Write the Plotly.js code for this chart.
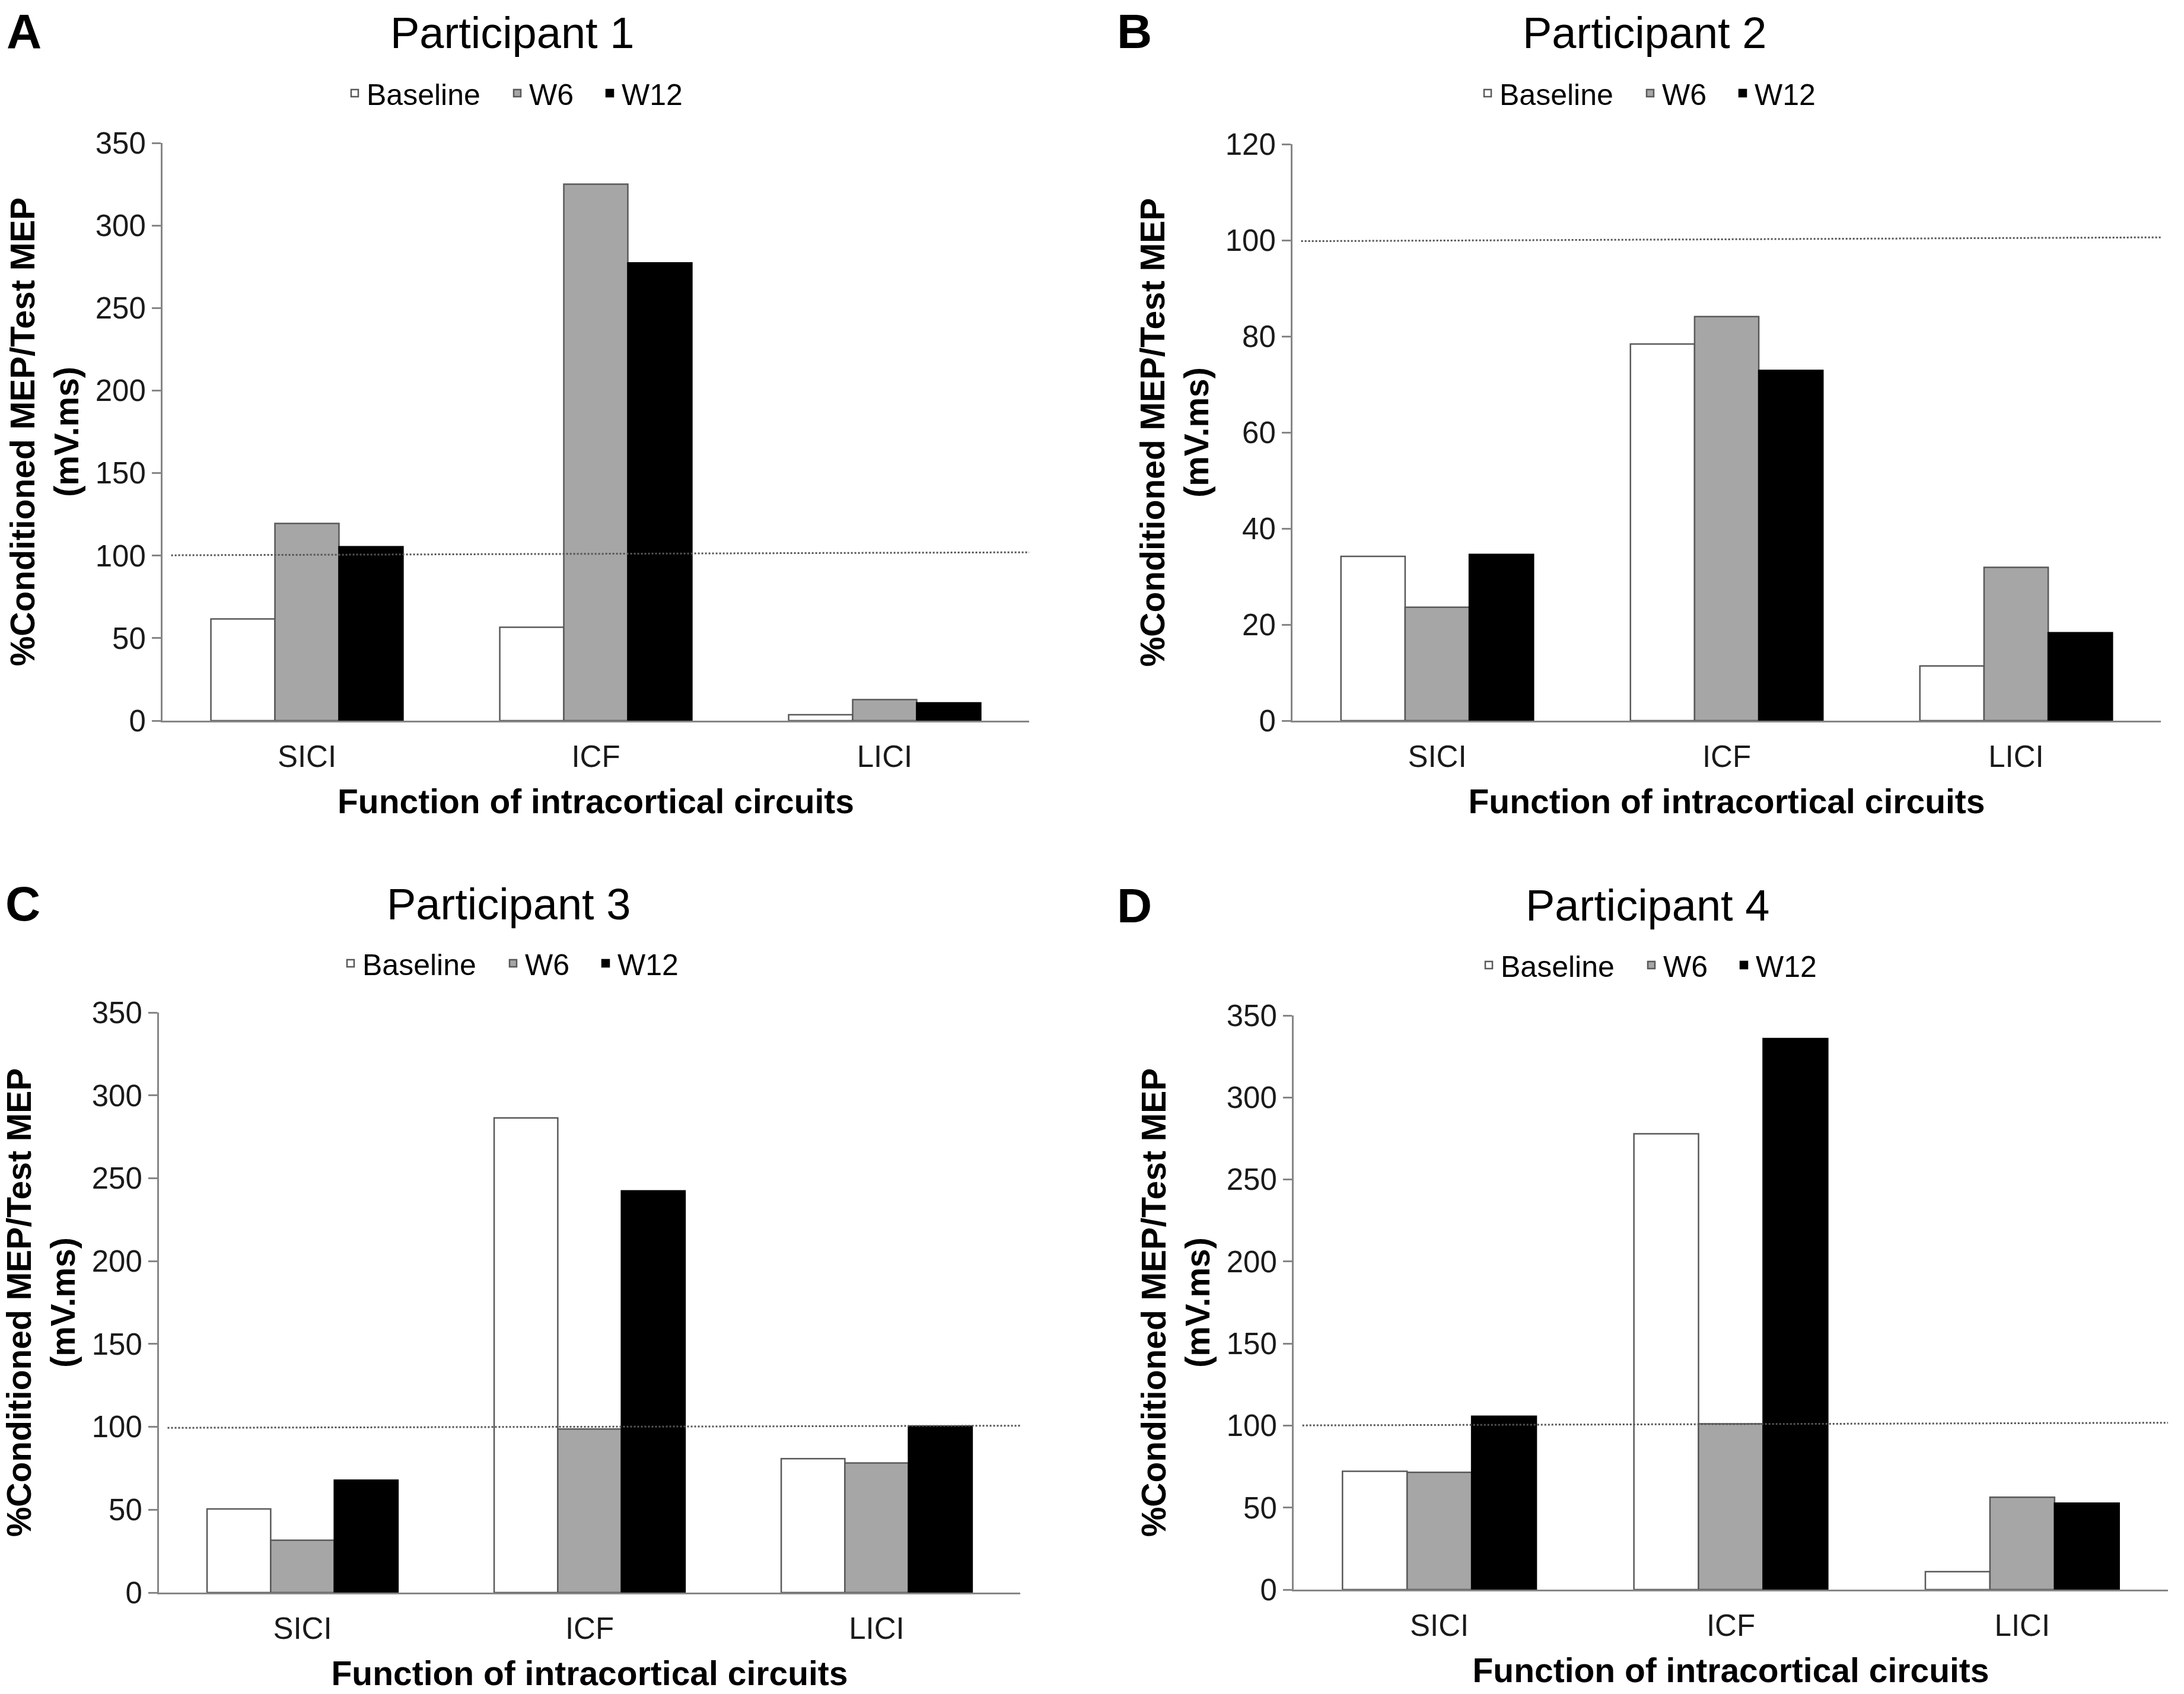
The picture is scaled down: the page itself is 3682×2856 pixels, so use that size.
<!DOCTYPE html>
<html>
<head>
<meta charset="utf-8">
<script src="https://cdn.plot.ly/plotly-3.0.1.min.js"></script>
<style>
  html, body { margin: 0; padding: 0; background: #fff; }
  #chart { width: 3682px; height: 2856px; }
</style>
</head>
<body>
<div id="chart"></div>
<script>
const categories = ["SICI", "ICF", "LICI"];
const seriesNames = ["Baseline", "W6", "W12"];

// %conditioned MEP / test MEP, in order SICI, ICF, LICI
const p1Baseline = [61.6, 56.6, 3.6];
const p1W6 = [119.5, 325.0, 12.8];
const p1W12 = [105.4, 277.3, 10.8];

const p2Baseline = [34.2, 78.4, 11.4];
const p2W6 = [23.6, 84.1, 31.9];
const p2W12 = [34.6, 72.9, 18.3];

const p3Baseline = [50.5, 286.4, 80.8];
const p3W6 = [31.6, 98.7, 78.2];
const p3W12 = [67.8, 242.4, 100.4];

const p4Baseline = [72.1, 277.9, 10.9];
const p4W6 = [71.5, 101.1, 56.3];
const p4W12 = [105.7, 335.9, 52.7];

const panelLetters = ["A", "B", "C", "D"];
const panelTitles = ["Participant 1", "Participant 2", "Participant 3", "Participant 4"];
const yMax = [350, 120, 350, 350];
const yStep = [50, 20, 50, 50];
// dotted 100% reference line (slightly slanted in the original figure)
const refLineStart = [100.2, 99.8, 99.4, 100.1];
const refLineEnd = [102.0, 100.6, 100.7, 101.7];

const panelData = [
    [p1Baseline, p1W6, p1W12],
    [p2Baseline, p2W6, p2W12],
    [p3Baseline, p3W6, p3W12],
    [p4Baseline, p4W6, p4W12]
];

const W = 3682, H = 2856;

// plot boxes in pixels: left, right, top, bottom
const boxes = [
    [274, 1735, 241, 1215],
    [2179, 3643, 243, 1215],
    [268, 1720, 1707, 2685],
    [2181, 3655, 1712, 2680]
];
const titlePos = [[863, 55], [2772, 55], [857, 1524], [2777, 1526]];
const letterPos = [[40, 52], [1912, 52], [38, 1523], [1912, 1526]];
const legendPos = [[870, 157], [2780, 157], [863, 1624], [2782, 1627]];
// key centres relative to legend centre, one legend per entry so the spacing can match
const keyOffsets = [-270, 4, 160];

const FONT = "Liberation Sans, Arial, sans-serif";
const fills = ["#ffffff", "#a6a6a6", "#000000"];
const outlines = ["#595959", "#595959", "#000000"];
const axisGrey = "#868686";

let traces = [];
let layout = {
    width: W,
    height: H,
    margin: { l: 0, r: 0, t: 0, b: 0 },
    paper_bgcolor: "#fff",
    plot_bgcolor: "#fff",
    showlegend: true,
    barmode: "group",
    bargap: 0.335,
    bargroupgap: 0,
    font: { family: FONT, color: "#1a1a1a" },
    annotations: [],
    shapes: []
};

panelData.forEach((series, p) => {
    const n = p === 0 ? "" : String(p + 1);
    const xName = "x" + n, yName = "y" + n;
    const [left, right, top, bottom] = boxes[p];

    series.forEach((vals, s) => {
        const k = p * 3 + s;
        const legendName = k === 0 ? "legend" : "legend" + (k + 1);
        traces.push({
            type: "bar",
            x: categories,
            y: vals,
            name: seriesNames[s],
            xaxis: xName,
            yaxis: yName,
            legend: legendName,
            showlegend: true,
            marker: { color: fills[s], line: { color: outlines[s], width: 2.5 } },
            hoverinfo: "skip"
        });
        layout[legendName] = {
            orientation: "h",
            x: (legendPos[p][0] + keyOffsets[s] - 22) / W,
            y: 1 - legendPos[p][1] / H,
            xanchor: "left",
            yanchor: "middle",
            font: { size: 50, color: "#000" },
            bgcolor: "rgba(0,0,0,0)"
        };
    });

    layout["xaxis" + n] = {
        domain: [left / W, right / W],
        anchor: yName,
        type: "category",
        showline: true,
        linecolor: axisGrey,
        linewidth: 3,
        ticks: "",
        ticklabelstandoff: 14,
        showgrid: false,
        zeroline: false,
        tickfont: { size: 51, color: "#1a1a1a" },
        title: {
            text: "Function of intracortical circuits",
            font: { size: 57, weight: "bold", color: "#000" },
            standoff: 28
        }
    };
    layout["yaxis" + n] = {
        domain: [1 - bottom / H, 1 - top / H],
        anchor: xName,
        range: [0, yMax[p]],
        dtick: yStep[p],
        showline: true,
        linecolor: axisGrey,
        linewidth: 3,
        ticks: "outside",
        ticklen: 15,
        tickwidth: 3,
        tickcolor: axisGrey,
        showgrid: false,
        zeroline: false,
        tickfont: { size: 51, color: "#1a1a1a" },
        title: {
            text: "%Conditioned MEP/Test MEP<br>(mV.ms)",
            font: { size: 57, weight: "bold", color: "#000" },
            standoff: 10
        }
    };

    layout.annotations.push({
        text: panelTitles[p],
        xref: "paper", yref: "paper",
        x: titlePos[p][0] / W, y: 1 - titlePos[p][1] / H,
        xanchor: "center", yanchor: "middle",
        showarrow: false,
        font: { size: 74, color: "#000" }
    });
    layout.annotations.push({
        text: panelLetters[p],
        xref: "paper", yref: "paper",
        x: letterPos[p][0] / W, y: 1 - letterPos[p][1] / H,
        xanchor: "center", yanchor: "middle",
        showarrow: false,
        font: { size: 82, weight: "bold", color: "#000" }
    });

    layout.shapes.push({
        type: "line",
        xref: xName + " domain", yref: yName,
        x0: 0.01, x1: 1,
        y0: refLineStart[p], y1: refLineEnd[p],
        line: { color: "#555", width: 3, dash: "dot" },
        layer: "above"
    });
});

Plotly.newPlot("chart", traces, layout, { staticPlot: true });
</script>
</body>
</html>
